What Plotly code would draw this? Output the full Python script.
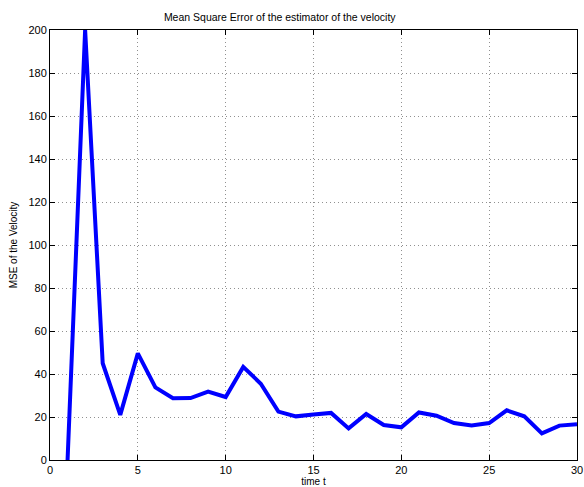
import plotly.graph_objects as go

t = list(range(1, 31))
mse = [0, 200, 45, 21, 49.6, 33.8, 28.7, 28.8, 31.8, 29.3,
       43.3, 35.5, 22.5, 20.3, 21.2, 21.9, 14.7, 21.4, 16.3, 15.2,
       22.1, 20.6, 17.2, 16.0, 17.2, 23.1, 20.3, 12.4, 16.0, 16.6]
x_ticks = [0, 5, 10, 15, 20, 25, 30]
y_ticks = [0, 20, 40, 60, 80, 100, 120, 140, 160, 180, 200]

fig = go.Figure()
fig.add_trace(go.Scatter(x=t, y=mse, mode="lines",
                         line=dict(color="#0000FF", width=4)))

font = dict(family="Liberation Sans, Arial, sans-serif", color="black")
axis_common = dict(showline=True, linecolor="black", linewidth=1, mirror="ticks",
                   ticks="inside", ticklen=5, tickcolor="black",
                   showgrid=True, gridcolor="#909090", griddash="1px,3px", gridwidth=1,
                   zeroline=False, automargin=False, tickfont=dict(size=11, **font))

fig.update_layout(
    width=584, height=487,
    margin=dict(l=50, r=7, t=30, b=27),
    paper_bgcolor="white", plot_bgcolor="white",
    showlegend=False,
    title=dict(text="Mean Square Error of the estimator of the velocity",
               x=0.479, xanchor="center", y=0.965, yanchor="middle",
               font=dict(size=10.5, **font)),
    xaxis=dict(range=[0, 30], tickvals=x_ticks,
               title=dict(text="time t", standoff=0, font=dict(size=10, **font)),
               **axis_common),
    yaxis=dict(range=[0, 200], tickvals=y_ticks,
               title=dict(text="MSE of the Velocity", standoff=8, font=dict(size=10, **font)),
               **axis_common),
)

fig.write_html("out.html", config={"displayModeBar": False},
               post_script="document.body.style.margin='0';document.body.style.overflow='hidden';")
